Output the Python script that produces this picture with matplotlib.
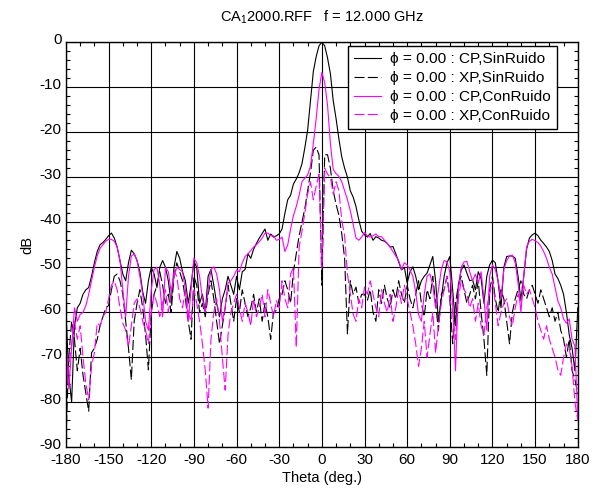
import numpy as np
import matplotlib
matplotlib.use("Agg")
from matplotlib import pyplot as plt
from matplotlib.ticker import MultipleLocator
from matplotlib.transforms import ScaledTranslation

plt.rcParams['font.family'] = ['Liberation Sans', 'DejaVu Sans']
plt.rcParams['axes.unicode_minus'] = False

# theta sampled every 2 deg, -180 .. 180
theta = np.arange(-180, 181, 2)

# CP, SinRuido (black solid)
cp_sin = [
    -60, -74, -80, -63, -59, -58, -56, -55, -54.5, -52,
    -49, -46.5, -45, -44.5, -43.8, -43, -42.4, -43.5, -45.5, -48.5,
    -51.5, -53, -49, -46.2, -47, -48.5, -51, -55.5, -58, -53,
    -50, -51.5, -54.5, -50, -48.5, -50, -53, -58, -50, -46.5,
    -48, -51, -53, -58, -54, -48.7, -50, -58, -56, -60,
    -52, -50.5, -54, -58, -61, -57, -55, -52, -54, -56,
    -52, -55, -51, -50.5, -47, -48, -46, -44.7, -43.5, -42.5,
    -41.5, -44, -42.6, -43.3, -43, -42.6, -41.5, -38, -35, -34,
    -31.5, -30.4, -29, -27, -23.5, -19.5, -13, -6.5, -3.2, -0.8,
    0,
    -0.8, -3.5, -7, -13, -17, -21.5, -25.5, -28, -30, -33,
    -34.4, -36.5, -39.5, -42, -42.8, -43.3, -42.5, -44, -43.2, -43.5,
    -44, -44.2, -44.7, -45.5, -45.4, -47, -48.8, -50.6, -50, -53.5,
    -51, -49.9, -52, -55, -53, -52, -51.3, -49.5, -47.6, -53,
    -62, -57, -52, -49, -47.6, -55, -63, -54, -50.6, -49.5,
    -51.3, -53, -52.8, -55, -51, -52.5, -58, -52, -49.5, -48.4,
    -49, -53.3, -59, -50, -47.6, -47.5, -47.5, -48, -52, -57.3,
    -52, -46, -43.5, -42.8, -42.4, -43, -44, -44.7, -45.5, -46.5,
    -48.5, -51.5, -52.5, -54, -56, -60, -65, -68, -73, -59,
]

# XP, SinRuido (black dashed)
xp_sin = [
    -88, -70, -62, -66, -73, -68, -74, -78, -82, -69,
    -68, -66, -63, -61, -59, -58.5, -55, -52, -51.5, -53,
    -56, -62, -68, -75, -62, -58, -55, -59, -65, -72.8,
    -60, -56, -54, -51, -54, -58, -56, -60, -52, -49,
    -51, -53, -57, -62, -66, -52, -54, -60, -58, -61,
    -56, -53, -57, -62, -67, -63, -59, -54, -58, -62,
    -57, -60, -55, -58, -61, -59, -56, -60, -57, -62,
    -58, -61, -66, -60, -59.6, -57, -56, -53, -55, -58,
    -51, -47, -43, -40, -37, -33, -29, -24, -23.3, -25,
    -54,
    -25, -25, -28, -33, -36, -38.5, -42.6, -48, -64.8, -53,
    -56, -54.4, -58, -56, -56, -57.4, -55, -60, -62, -55,
    -58, -54, -57, -59, -55, -57, -53, -56, -58, -54,
    -57, -59, -56, -53, -58, -61, -55, -57, -52, -58,
    -64, -56, -55, -52, -57, -67, -58, -54, -52, -55,
    -58, -56, -54, -57, -53, -60, -66, -74, -55, -52,
    -57, -60, -55, -57, -62, -67, -60, -57, -55, -53,
    -56, -57, -55, -54, -56, -58, -55, -57, -59, -61,
    -59, -62, -60, -64, -66, -70, -66, -73, -75, -78,
]

# CP, ConRuido (magenta solid)
cp_con = [
    -67, -77, -68, -59, -62, -60.5, -60, -58.5, -56, -53,
    -50, -47.5, -45.8, -45, -44.2, -43.8, -43.8, -44.2, -45.5, -48.5,
    -55, -61, -52, -47.5, -47, -48.5, -52, -56, -62, -64,
    -55, -50.5, -50, -54, -61, -50, -51, -55.5, -52, -50,
    -50.5, -51, -55, -62, -55, -48, -49, -52, -57, -60,
    -55, -50.5, -49.9, -51.5, -55, -62, -59, -53.5, -53, -52,
    -50.6, -51, -49, -47.6, -47, -46.3, -45.5, -45, -44.3, -43.5,
    -42.4, -42.4, -43, -43, -44, -43.8, -43.3, -46.5, -45, -41.5,
    -38.5, -36.5, -34, -31, -30.2, -29.5, -27.5, -22.5, -17, -10.5,
    -6.7,
    -9, -14, -22.5, -28.3, -29.2, -29.8, -31, -33, -35, -37.4,
    -40.5, -43.5, -44, -43.3, -42.3, -43, -43.3, -43, -42.6, -43.2,
    -43.2, -44, -44.7, -45.5, -46.5, -47.5, -48.5, -50.5, -49, -49.5,
    -50.6, -52, -55.5, -60.5, -62, -56, -52, -51.5, -54, -59,
    -55, -50.5, -48.5, -48.8, -51, -58, -73, -55, -50, -48.8,
    -48.7, -51, -53, -51.5, -53.5, -51, -57, -64, -52, -49.5,
    -50.5, -53, -57, -50.5, -48.5, -47.5, -47.3, -49, -53.5, -60,
    -52, -45.5, -44.2, -43.8, -44.1, -44.5, -45.3, -46.5, -48, -50,
    -51.5, -54.5, -57.5, -59, -61.5, -62.4, -61.5, -66, -67.5, -84,
]

# XP, ConRuido (magenta dashed)
xp_con = [
    -77, -72, -67, -62, -66, -63, -70, -75.8, -79.5, -72,
    -69, -62.4, -63, -61, -60, -57, -54, -53, -55, -59,
    -62.4, -64, -67.6, -63, -58, -57, -59, -62, -64, -67,
    -60, -56, -58, -61, -58, -55, -60, -56, -51, -52,
    -57, -59, -55, -60, -62, -55, -58, -62, -67, -73,
    -81.3, -66, -60, -57, -62, -70, -77.3, -65, -60, -58,
    -56, -59, -62, -58, -60, -63, -57, -61, -59, -56,
    -61, -55, -58, -61, -57.4, -59, -53, -57, -59, -51.5,
    -50, -67.8, -45.6, -42, -38, -33.7, -31, -35, -32, -29.3,
    -50,
    -28, -29.3, -30, -33.7, -31, -33, -39.6, -43, -51.5, -56,
    -60.4, -62, -57, -59, -54.4, -56, -53, -56, -59, -61,
    -55, -58, -60, -56, -62, -59, -55, -58, -54, -57,
    -60, -63, -67, -72, -68, -62, -70, -65, -60, -69,
    -63, -58, -55, -52, -57, -60, -66, -57, -53, -55,
    -56, -59, -57, -62, -58, -63, -65, -59, -56, -53,
    -58, -63, -60, -58, -57, -61, -63, -59, -56, -58,
    -54, -56, -55, -57, -59, -62, -64, -66, -63, -66,
    -68, -70, -72.8, -74, -70, -67, -68, -72, -80, -84,
]

labels = [
    '\u03d5 = 0.00 : CP,SinRuido',
    '\u03d5 = 0.00 : XP,SinRuido',
    '\u03d5 = 0.00 : CP,ConRuido',
    '\u03d5 = 0.00 : XP,ConRuido',
]

fig = plt.figure(figsize=(6.05, 4.91), dpi=100)
ax = fig.add_axes([0.109, 0.089, 0.846, 0.825])

dash = (0, (9, 3))
ax.plot(theta, cp_sin, color='black', lw=0.8, label=labels[0])
ax.plot(theta, xp_sin, color='black', lw=0.8, ls=dash, label=labels[1])
ax.plot(theta, cp_con, color='magenta', lw=0.8, label=labels[2])
ax.plot(theta, xp_con, color='magenta', lw=0.8, ls=dash, label=labels[3])

ax.set_xlim(-180, 180)
ax.set_ylim(-90, 0)
ax.xaxis.set_major_locator(MultipleLocator(30))
ax.xaxis.set_minor_locator(MultipleLocator(10))
ax.yaxis.set_major_locator(MultipleLocator(10))
ax.yaxis.set_minor_locator(MultipleLocator(2))
ax.tick_params(which='both', direction='in', top=True, right=True,
               labelsize=11)
ax.tick_params(axis='x', pad=4)
ax.tick_params(axis='y', pad=3)
ax.tick_params(which='major', length=0)
ax.tick_params(which='minor', length=3, width=0.8)
ax.grid(True, which='major', color='black', lw=0.8)
for s in ax.spines.values():
    s.set_linewidth(1.0)

# y tick labels sit a little above their gridline, as in the original
shift = ScaledTranslation(0, 3 / 72, fig.dpi_scale_trans)
for lab in ax.get_yticklabels():
    lab.set_transform(lab.get_transform() + shift)

ax.set_title('CA$_\\mathregular{1}$2000.RFF   f = 12.000 GHz', fontsize=10.5, pad=15)
ax.set_xlabel('Theta (deg.)', fontsize=10.5, labelpad=3)
ax.set_ylabel('dB', fontsize=10.5, labelpad=4)

leg = ax.legend(loc='upper right', bbox_to_anchor=(0.959, 0.991),
                borderaxespad=0, fontsize=11.1,
                fancybox=False, framealpha=1, edgecolor='black',
                handlelength=1.7, borderpad=0.4, labelspacing=0.32,
                handletextpad=0.6)
leg.get_frame().set_linewidth(1.0)

plt.savefig('out.png', dpi=100)
